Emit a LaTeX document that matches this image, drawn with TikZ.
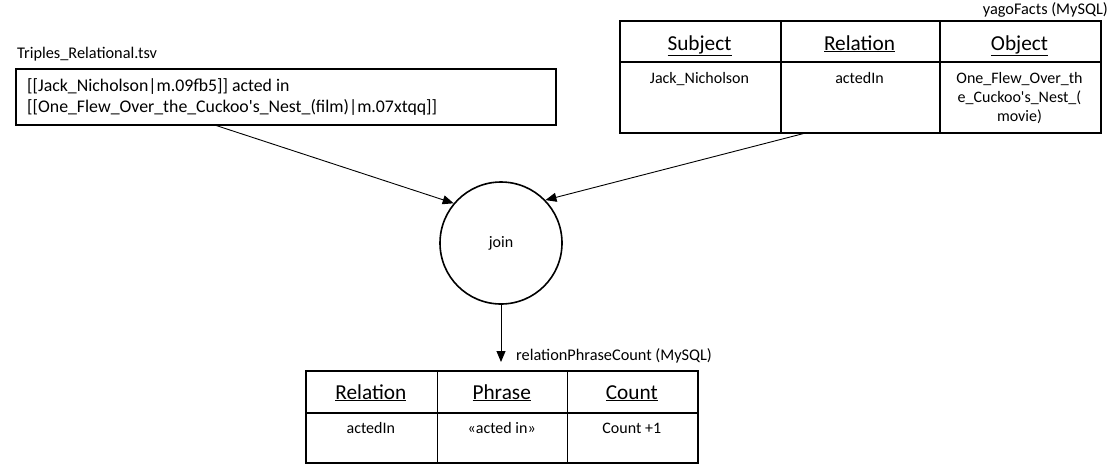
\documentclass[tikz,border=0pt]{standalone}
\usepackage{fontspec}
\setmainfont{Carlito}[Ligatures=TeXOff]
\usetikzlibrary{arrows.meta,calc}
\begin{document}
\begin{tikzpicture}[x=1pt,y=-1pt,
  cell/.style={draw, line width=1.6pt, rectangle, inner sep=0pt, anchor=north west},
  lbl/.style={inner sep=0pt, font=\fontsize{16.3}{19}\selectfont},
  hdr/.style={inner sep=0pt, anchor=base, font=\fontsize{21.3}{25}\selectfont},
  body/.style={inner sep=0pt, anchor=base, font=\fontsize{16}{19}\selectfont},
  boxtxt/.style={inner sep=0pt, anchor=base west, font=\fontsize{17.8}{22}\selectfont},
  conn/.style={line width=0.9pt, -{Triangle[length=11pt,width=9pt]}}]
\useasboundingbox (0,0) rectangle (1116,475);

% Triples box
\node[lbl, anchor=base west] (tlab) at (17,58) {Triples\_Relational.tsv};
\node[cell, minimum width=540pt, minimum height=56pt] (trip) at (15,68) {};
\node[boxtxt] (t1) at (27,91) {[[Jack\_Nicholson|m.09fb5]] acted in};
\node[boxtxt] (t2) at (27,112) {[[One\_Flew\_Over\_the\_Cuckoo's\_Nest\_(film)|m.07xtqq]]};

% yagoFacts table
\node[lbl, anchor=base east] (ylab) at (1108,14) {yagoFacts (MySQL)};
\node[cell, minimum width=161pt, minimum height=41pt] (ys) at (619,20) {};
\node[cell, minimum width=159pt, minimum height=41pt] (yr) at (780,20) {};
\node[cell, minimum width=161pt, minimum height=41pt] (yo) at (939,20) {};
\node[cell, minimum width=161pt, minimum height=71pt] (ysb) at (619,61) {};
\node[cell, minimum width=159pt, minimum height=71pt] (yrb) at (780,61) {};
\node[cell, minimum width=161pt, minimum height=71pt] (yob) at (939,61) {};
\node[hdr] (ysh) at (699.5,50) {\underline{Subject}};
\node[hdr] (yrh) at (859.5,50) {\underline{Relation}};
\node[hdr] (yoh) at (1019.5,50) {\underline{Object}};
\node[body] (ysv) at (699.5,83) {Jack\_Nicholson};
\node[body] (yrv) at (859.5,83) {actedIn};
\node[body] (yov1) at (1019.5,83) {One\_Flew\_Over\_th};
\node[body] (yov2) at (1019.5,102) {e\_Cuckoo's\_Nest\_(};
\node[body] (yov3) at (1019.5,121) {movie)};

% join
\node[draw, circle, line width=1.6pt, minimum size=122pt, inner sep=0pt, font=\fontsize{16}{19}\selectfont] (join) at (501,243) {join};

% relationPhraseCount table
\node[lbl, anchor=base west] (rlab) at (516,360) {relationPhraseCount (MySQL)};
\node[cell, minimum width=131.7pt, minimum height=42pt] (rr) at (305,370) {};
\node[cell, minimum width=130pt, minimum height=42pt] (rp) at (436.7,370) {};
\node[cell, minimum width=130.3pt, minimum height=42pt] (rc) at (566.7,370) {};
\node[cell, minimum width=131.7pt, minimum height=50pt] (rrb) at (305,412) {};
\node[cell, minimum width=130pt, minimum height=50pt] (rpb) at (436.7,412) {};
\node[cell, minimum width=130.3pt, minimum height=50pt] (rcb) at (566.7,412) {};
\node[hdr] (rrh) at (370.8,399) {\underline{Relation}};
\node[hdr] (rph) at (501.7,399) {\underline{Phrase}};
\node[hdr] (rch) at (631.8,399) {\underline{Count}};
\node[body] (rrv) at (370.8,433) {actedIn};
\node[body] (rpv) at (501.7,433) {«acted in»};
\node[body] (rcv) at (631.8,433) {Count +1};

% connectors
\coordinate (tstart) at ($(trip.south west)!0.372!(trip.south east)$);
\coordinate (ystart) at ($(yrb.south west)!0.145!(yrb.south east)$);
\coordinate (rend) at (501,362);
\draw[conn] (tstart) -- (join.140);
\draw[conn] (ystart) -- (join.44);
\draw[conn] (join.south) -- (rend);
\end{tikzpicture}
\end{document}
